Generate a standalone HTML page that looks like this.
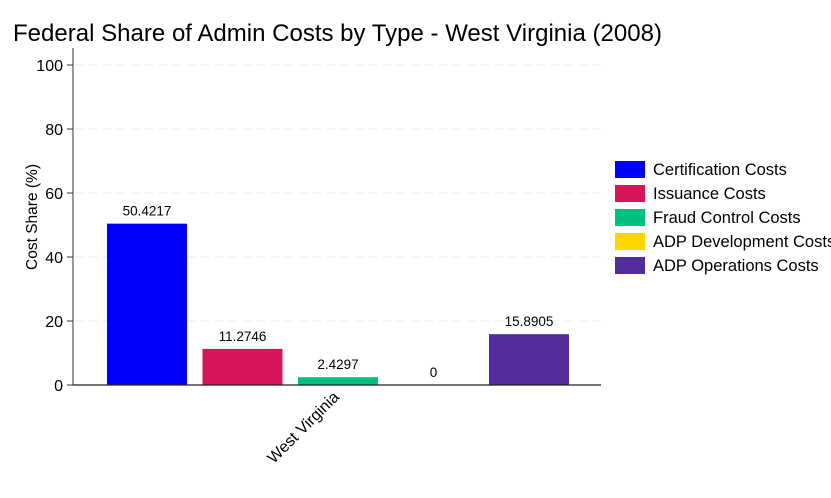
<!DOCTYPE html>
<html><head><meta charset="utf-8"><style>
body{margin:0;background:#fff;}
svg{display:block;font-family:"Liberation Sans",Arial,sans-serif;}
</style></head><body>
<svg id="chart" width="831" height="498">
<text x="13" y="41" font-size="24" fill="#000" textLength="649">Federal Share of Admin Costs by Type - West Virginia (2008)</text>
<g id="grid"></g>
<g id="bars"></g>
<line x1="73" y1="48" x2="73" y2="385" stroke="#777" stroke-width="1.5"/>
<line x1="73" y1="385" x2="601" y2="385" stroke="#222" stroke-width="1.2"/>
<g id="yticks"></g>
<text transform="translate(37,217) rotate(-90)" text-anchor="middle" font-size="15.5">Cost Share (%)</text>
<text transform="translate(340,398) rotate(-45)" text-anchor="end" font-size="16">West Virginia</text>
<g id="legend"></g>
</svg>
<script>
const categories=["Certification Costs","Issuance Costs","Fraud Control Costs","ADP Development Costs","ADP Operations Costs"];
const values=[50.4217,11.2746,2.4297,0,15.8905];
const labels=["50.4217","11.2746","2.4297","0","15.8905"];
const colors=["#0000ff","#d6145a","#00c07f","#ffd700","#522d9b"];
const yTicks=[0,20,40,60,80,100];
const NS="http://www.w3.org/2000/svg";
function y(v){return 385-v*3.2;}
function x(i){return 107+i*95.5;}
function mk(t,a,p){const e=document.createElementNS(NS,t);for(const k in a)e.setAttribute(k,a[k]);p.appendChild(e);return e;}
const grid=document.getElementById('grid'),yt=document.getElementById('yticks'),bars=document.getElementById('bars'),leg=document.getElementById('legend');
yTicks.forEach(t=>{
 if(t>0){const g=mk('line',{x1:75,x2:601,y1:y(t),y2:y(t),stroke:'#e8e8e8','stroke-dasharray':'8,6'},grid);
 
 }
 const tk=mk('line',{x1:67,x2:73,y1:y(t),y2:y(t),stroke:'#333'},yt);
 
 
 const tx=mk('text',{x:63,y:y(t)+6,'text-anchor':'end','font-size':16},yt);tx.textContent=t;
 
 
});
values.forEach((v,i)=>{
 const r=mk('rect',{x:x(i),y:y(v),width:80,height:v*3.2,fill:colors[i]},bars);
 
 
 const t=mk('text',{x:x(i)+40,y:y(v)-8,'text-anchor':'middle','font-size':13.5},bars);t.textContent=labels[i];
 
 
});
categories.forEach((c,i)=>{
 const cy=169+i*24;
 const r=mk('rect',{x:615,y:cy-8,width:30,height:17,fill:colors[i]},leg);
 
 
 const t=mk('text',{x:653,y:cy+6,'font-size':16.5},leg);t.textContent=c;
 
 
});
</script>
</body></html>
